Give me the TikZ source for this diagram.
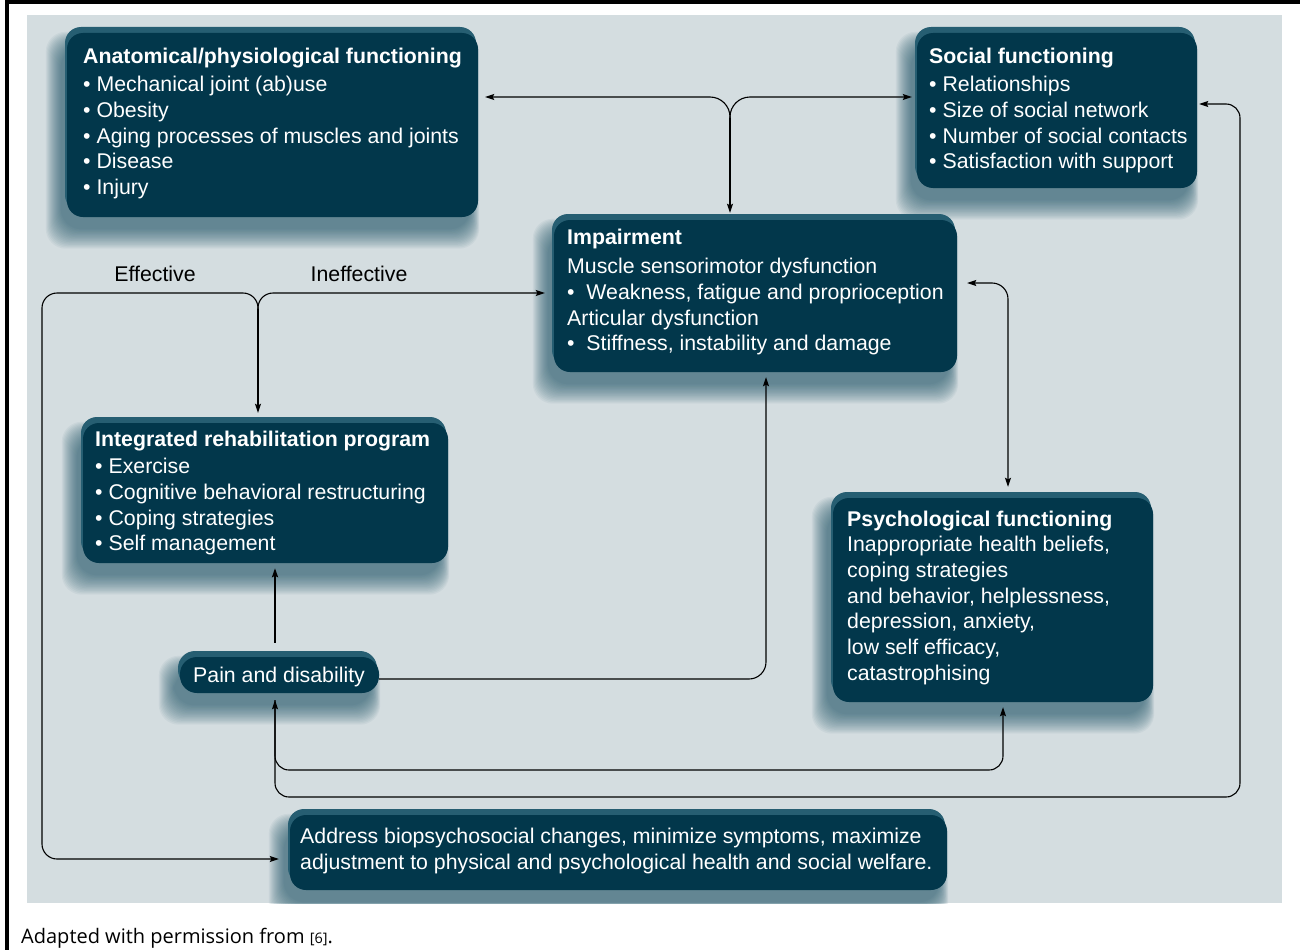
\documentclass[tikz,border=0pt]{standalone}
\usepackage{fontspec}
\setmainfont{Liberation Sans}
\newfontfamily\capfont{Open Sans}
\usetikzlibrary{arrows.meta,fit}
\definecolor{panelc}{RGB}{212,221,224}
\definecolor{boxc}{RGB}{2,55,75}
\definecolor{rimc}{RGB}{38,94,114}
\definecolor{shadec}{RGB}{22,78,98}
\pgfdeclarelayer{back}
\pgfdeclarelayer{shade}
\pgfsetlayers{back,shade,main}

\begin{document}
\begin{tikzpicture}[x=1pt, y=-1pt,
    >={Stealth[length=9pt, width=6pt, inset=1.5pt]},
    box/.style={fill=boxc, rounded corners=16pt, inner sep=0pt,
      preaction={fill=rimc, transform canvas={xshift=-2pt, yshift=6pt}}},
    txt/.style={text=white, align=left, anchor=north west, inner sep=0pt,
      font=\fontsize{21.3}{25.7}\selectfont},
    lbl/.style={anchor=base, inner sep=0pt, font=\fontsize{21.3}{25.7}\selectfont},
    conn/.style={line width=1.1pt, ->},
  ]
  \useasboundingbox (0,0) rectangle (1300,950);
  \begin{pgfonlayer}{back}
    \fill[panelc] (27,15) rectangle (1282,903);
  \end{pgfonlayer}
  \draw[line width=4pt] (1300,2) -- (7,2) -- (7,950);

  \node[box, fit={(67,33) (478,217)}] (anat) {};
  \node[box, fit={(917,33) (1197,188)}] (soc) {};
  \node[box, fit={(554,220) (957,372)}] (imp) {};
  \node[box, fit={(83,423) (448,563)}] (irp) {};
  \node[box, fit={(833,498) (1153,702)}] (psy) {};
  \node[box, rounded corners=17pt, fit={(180,657) (379,693)}] (pain) {};
  \node[box, fit={(290,815) (947,890)}] (goal) {};

  \begin{pgfonlayer}{shade}
    \begin{scope}
      \clip (27,15) rectangle (1282,903);
      \foreach \bx in {anat,soc,imp,irp,psy,pain,goal}
        \foreach \kk in {0,...,15}
          \fill[shadec, opacity=0.05, rounded corners=20pt]
            ([shift={(-6-\kk,14-\kk)}]\bx.north west) rectangle ([shift={(-8+0.6*\kk,12+1.3*\kk)}]\bx.south east);
    \end{scope}
  \end{pgfonlayer}

  \node[txt] (anat-t) at (83,45) {\strut\textbf{Anatomical/physiological functioning}\\[3pt]
    \textbullet{} Mechanical joint (ab)use\\
    \textbullet{} Obesity\\
    \textbullet{} Aging processes of muscles and joints\\
    \textbullet{} Disease\\
    \textbullet{} Injury};
  \node[txt] (soc-t) at (929,45) {\strut\textbf{Social functioning}\\[3pt]
    \textbullet{} Relationships\\
    \textbullet{} Size of social network\\
    \textbullet{} Number of social contacts\\
    \textbullet{} Satisfaction with support};
  \node[txt] (imp-t) at (567,226) {\strut\textbf{Impairment}\\[4pt]
    Muscle sensorimotor dysfunction\\
    \textbullet~ Weakness, fatigue and proprioception\\
    Articular dysfunction\\
    \textbullet~ Stiffness, instability and damage};
  \node[txt] (irp-t) at (95,428) {\strut\textbf{Integrated rehabilitation program}\\[2pt]
    \textbullet{} Exercise\\
    \textbullet{} Cognitive behavioral restructuring\\
    \textbullet{} Coping strategies\\
    \textbullet{} Self management};
  \node[txt] (psy-t) at (847,508) {\strut\textbf{Psychological functioning}\\
    Inappropriate health beliefs,\\
    coping strategies\\
    and behavior, helplessness,\\
    depression, anxiety,\\
    low self efficacy,\\
    catastrophising};
  \node[txt] (pain-t) at (193,664) {\strut Pain and disability};
  \node[txt] (goal-t) at (300,825) {\strut Address biopsychosocial changes, minimize symptoms, maximize\\[1pt]
    adjustment to physical and psychological health and social welfare.};

  \node[lbl] (eff) at (155,281) {Effective};
  \node[lbl] (ineff) at (359,281) {Ineffective};

  \coordinate (split1) at (730,118);
  \coordinate (ytop) at (0,97);
  \draw[conn, rounded corners=20pt, shorten >=7pt] (split1) |- (anat.east |- ytop);
  \draw[conn, rounded corners=20pt, shorten >=5pt] (split1) |- (soc.west |- ytop);
  \draw[conn, shorten >=7pt] (split1) -- (imp.north -| split1);

  \coordinate (split2) at (258,309);
  \coordinate (ymid) at (0,293);
  \coordinate (xleft) at (42,0);
  \coordinate (ylow) at (0,859);
  \draw[conn, rounded corners=15pt, shorten >=9pt] (split2) |- (imp.west |- ymid);
  \draw[conn, rounded corners=15pt, shorten >=11pt] (split2) |- (xleft |- ymid) |- (goal.west |- ylow);
  \draw[conn, shorten >=10pt] (split2) -- (irp.north -| split2);

  \coordinate (xpain) at (275,0);
  \draw[conn, line width=2pt, shorten <=14pt, shorten >=5pt] (pain.north -| xpain) -- (irp.south -| xpain);

  \coordinate (xup) at (766,0);
  \draw[conn, rounded corners=17pt, shorten >=5pt] ([yshift=-4pt]pain.east) -| (imp.south -| xup);

  \coordinate (yimp) at (0,283);
  \coordinate (xpsy) at (1008,0);
  \draw[conn, <->, rounded corners=16pt, shorten <=10pt, shorten >=11pt] (imp.east |- yimp) -| (psy.north -| xpsy);

  \coordinate (yb1) at (0,770);
  \coordinate (yb2) at (0,797);
  \coordinate (xpb) at (1003,0);
  \coordinate (xright) at (1240,0);
  \coordinate (ysoc) at (0,104);
  \draw[conn, <->, rounded corners=14pt, shorten <=7pt, shorten >=5pt] (pain.south -| xpain) -- (xpain |- yb1) -- (xpb |- yb1) -- (psy.south -| xpb);
  \draw[conn, rounded corners=14pt, shorten <=7pt, shorten >=2pt] (pain.south -| xpain) -- (xpain |- yb2) -- (xright |- yb2) -- (xright |- ysoc) -- (soc.east |- ysoc);

  \node[anchor=base west, inner sep=0pt, font=\capfont\fontsize{20}{23}\selectfont] (credit) at (21,943) {Adapted with permission from {\fontsize{14.5}{16}\selectfont[6]}.};
\end{tikzpicture}
\end{document}
